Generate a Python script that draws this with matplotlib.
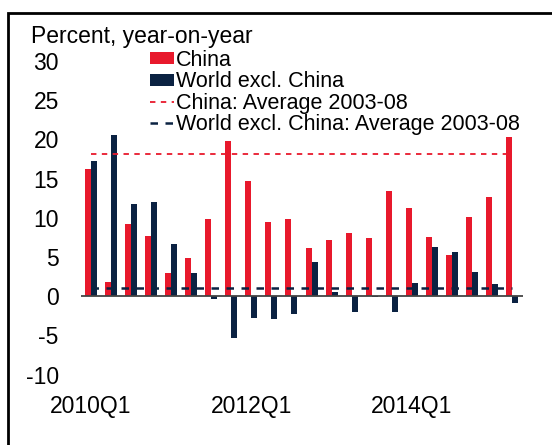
import numpy as np
import matplotlib
matplotlib.use("Agg")
import matplotlib.pyplot as plt
from matplotlib.patches import Rectangle

# quarterly data, 2010Q1 - 2015Q2
quarters = [f"{y}Q{q}" for y in range(2010, 2016) for q in range(1, 5)][:22]
china = [16.2, 1.8, 9.2, 7.7, 2.9, 4.9, 9.9, 19.8, 14.7, 9.5, 9.8,
         6.1, 7.1, 8.1, 7.4, 13.4, 11.2, 7.5, 5.3, 10.1, 12.7, 20.3]
world = [17.3, 20.5, 11.8, 12.0, 6.6, 2.9, -0.4, -5.4, -2.8, -2.9, -2.3,
         4.4, 0.5, -2.0, -0.1, -2.0, 1.7, 6.3, 5.6, 3.1, 1.5, -0.9]
china_avg = 18.1
world_avg = 1.1
tick_quarters = ["2010Q1", "2012Q1", "2014Q1"]

red = "#E8192C"
navy = "#0B2242"

plt.rcParams["font.family"] = ["Liberation Sans", "DejaVu Sans"]
plt.rcParams["axes.unicode_minus"] = False

fig = plt.figure(figsize=(5.52, 4.45), dpi=100)
ax = fig.add_axes([0.1467, 0.1584, 0.8008, 0.7045])

x = np.arange(len(quarters))
w = 0.3
b1 = ax.bar(x - w / 2, china, width=w, color=red)
b2 = ax.bar(x + w / 2, world, width=w, color=navy)
l1 = ax.hlines(china_avg, x[0], x[-1], colors=red, linestyles=(0, (3, 3)), lw=1.3)
l2 = ax.hlines(world_avg, x[0], x[-1], colors=navy, linestyles=(0, (3, 3)), lw=1.8)
ax.axhline(0, color="#444444", lw=1.3, zorder=3)

ax.set_xlim(-0.5, 21.55)
ax.set_ylim(-10, 30)
ax.set_yticks(range(-10, 31, 5))
ax.set_xticks([quarters.index(q) for q in tick_quarters])
ax.set_xticklabels(tick_quarters)
ax.tick_params(axis="both", length=0, labelsize=16.5)
ax.tick_params(axis="y", pad=16)
ax.tick_params(axis="x", pad=15)
for s in ax.spines.values():
    s.set_visible(False)

fig.text(31 / 552, 1 - 37 / 445, "Percent, year-on-year", fontsize=16.5, va="center")

ax.legend([b1, b2, l1, l2],
          ["China", "World excl. China", "China: Average 2003-08",
           "World excl. China: Average 2003-08"],
          loc="upper left", bbox_to_anchor=(150 / 552, 1 - 50 / 445),
          bbox_transform=fig.transFigure, frameon=False, fontsize=15.5,
          handlelength=1.1, handleheight=0.5, handletextpad=0.1,
          labelspacing=0.02, borderpad=0, borderaxespad=0)

fig.patches.append(Rectangle((8 / 552, -0.05), 1.2, 1 - 13 / 445 + 0.05,
                             transform=fig.transFigure, fill=False,
                             edgecolor="black", lw=2))

fig.savefig("out.png", dpi=100)
